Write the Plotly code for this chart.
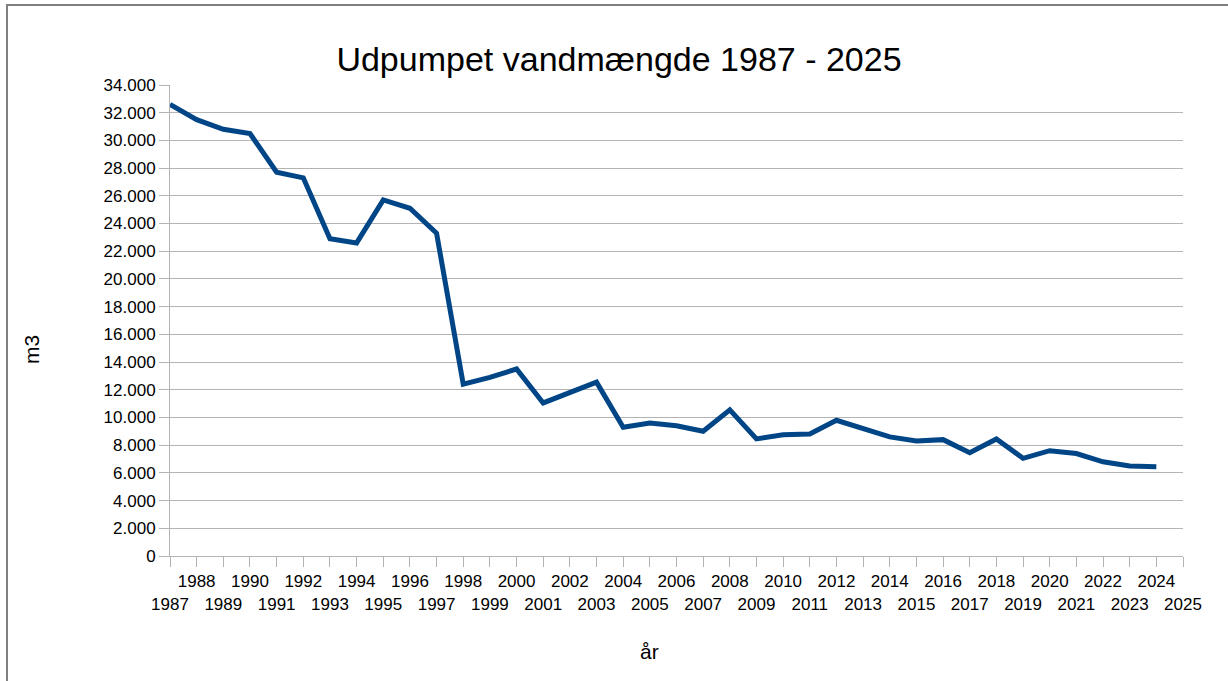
import plotly.graph_objects as go

years = list(range(1987, 2025))
volumes = [32600, 31500, 30800, 30500, 27700, 27300, 22900, 22600, 25700, 25100,
           23300, 12400, 12900, 13500, 11050, 11800, 12550, 9300, 9600, 9400,
           9000, 10550, 8450, 8750, 8800, 9800, 9200, 8600, 8300, 8400,
           7450, 8450, 7050, 7600, 7400, 6800, 6500, 6450]
tick_years = list(range(1987, 2026))
tick_labels = [str(y) if y % 2 == 0 else "<br>" + str(y) for y in tick_years]

FONT = "Liberation Sans, Arial, sans-serif"
GRID = "#b3b3b3"

fig = go.Figure()
fig.add_trace(go.Scatter(x=years, y=volumes, mode="lines",
                         line=dict(color="#004586", width=5), hoverinfo="skip"))

L, R, T, B = 170, 45, 85, 125
W, H = 1228, 681
pw = W - L - R
ph = H - T - B

def px2x(px):
    return (px - L) / pw

def py2y(py):
    return (H - B - py) / ph

fig.update_layout(
    width=W, height=H,
    margin=dict(l=L, r=R, t=T, b=B),
    paper_bgcolor="white", plot_bgcolor="white",
    separators=",.",
    showlegend=False,
    font=dict(family=FONT, color="#000000", size=17),
    title=dict(text="Udpumpet vandmængde 1987 - 2025", font=dict(size=34, family=FONT),
               x=619 / W, xref="container", xanchor="center",
               y=1 - 59 / H, yref="container", yanchor="middle"),
    xaxis=dict(range=[1987, 2025], tickvals=tick_years, ticktext=tick_labels,
               showgrid=False, zeroline=False, showline=True, linecolor=GRID, linewidth=1,
               ticks="outside", ticklen=10, tickcolor=GRID, tickwidth=1,
               tickfont=dict(size=17, family=FONT), tickangle=0),
    yaxis=dict(range=[0, 34000], dtick=2000, tickformat=",d",
               showgrid=True, gridcolor=GRID, gridwidth=1, zeroline=False,
               showline=True, linecolor=GRID, linewidth=1,
               ticks="outside", ticklen=10, tickcolor=GRID, tickwidth=1,
               tickfont=dict(size=17, family=FONT)),
    annotations=[
        dict(text="år", x=px2x(649), y=py2y(651), xref="paper", yref="paper",
             showarrow=False, font=dict(size=21, family=FONT), xanchor="center", yanchor="middle"),
        dict(text="m3", x=px2x(31), y=py2y(350), xref="paper", yref="paper", textangle=-90,
             showarrow=False, font=dict(size=21, family=FONT), xanchor="center", yanchor="middle"),
    ],
    shapes=[
        dict(type="line", xref="paper", yref="paper", x0=px2x(6), x1=px2x(1230),
             y0=py2y(5), y1=py2y(5), line=dict(color="#000000", width=1)),
        dict(type="line", xref="paper", yref="paper", x0=px2x(7), x1=px2x(7),
             y0=py2y(5), y1=py2y(690), line=dict(color="#808080", width=2)),
    ],
)

fig.write_html("out.html", config={"displayModeBar": False},
               post_script="document.body.style.margin='0px';")
